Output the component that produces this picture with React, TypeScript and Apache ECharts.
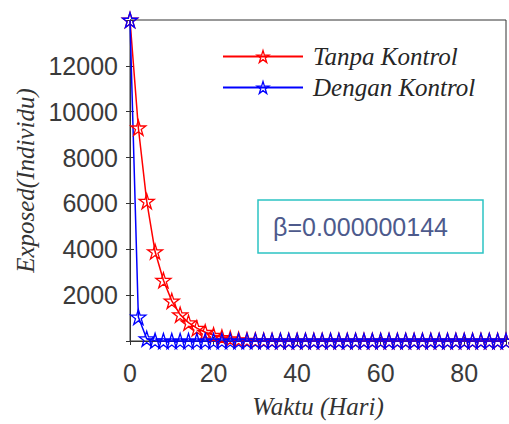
import React, { useEffect, useRef } from "react";
import * as echarts from "echarts";

const days = [0, 2, 4, 6, 8, 10, 12, 14, 16, 18, 20, 22, 24, 26, 28, 30, 32, 34, 36, 38, 40, 42, 44, 46, 48, 50, 52, 54, 56, 58, 60, 62, 64, 66, 68, 70, 72, 74, 76, 78, 80, 82, 84, 86, 88, 90];
const tanpaKontrol = [14000, 9300, 6100, 3900, 2650, 1750, 1150, 800, 560, 380, 250, 160, 100, 60, 35, 20, 12, 7, 4, 2, 1, 0, 0, 0, 0, 0, 0, 0, 0, 0, 0, 0, 0, 0, 0, 0, 0, 0, 0, 0, 0, 0, 0, 0, 0, 0];
const denganKontrol = [14000, 1050, 100, 10, 1, 0, 0, 0, 0, 0, 0, 0, 0, 0, 0, 0, 0, 0, 0, 0, 0, 0, 0, 0, 0, 0, 0, 0, 0, 0, 0, 0, 0, 0, 0, 0, 0, 0, 0, 0, 0, 0, 0, 0, 0, 0];
const seriesNames = ["Tanpa Kontrol", "Dengan Kontrol"];
const xTicks = [0, 20, 40, 60, 80];
const yTicks = [2000, 4000, 6000, 8000, 10000, 12000];
const betaLabel = "β=0.000000144";
const xTitle = "Waktu (Hari)";
const yTitle = "Exposed(Individu)";

const STAR = "path://M100,0L122.45,69.1L195.1,69.1L136.3,111.8L158.8,180.9L100,138.2L41.2,180.9L63.7,111.8L4.9,69.1L77.55,69.1Z";

export default function App() {
  const ref = useRef<HTMLDivElement>(null);
  useEffect(() => {
    if (!ref.current) return;
    const chart = echarts.init(ref.current, null, { renderer: "svg" });
    const axisColor = "#333333";
    const labelFont = { fontFamily: "Liberation Sans, Arial, sans-serif", fontSize: 25, color: "#3a3a3a" };
    const titleFont = { fontFamily: "Liberation Serif, Times New Roman, serif", fontStyle: "italic" as const, fontSize: 25, color: "#333333" };
    const clear = "rgba(255,255,255,0)";
    const mk = (name: string, data: number[], color: string) => ({
      name,
      type: "line",
      data: days.map((d, i) => [d, data[i]]),
      symbol: STAR,
      symbolSize: 15,
      showAllSymbol: true,
      clip: false,
      lineStyle: { color, width: 1.5 },
      itemStyle: { color: clear, borderColor: color, borderWidth: 1.3 },
      emphasis: { disabled: true },
    });
    const tickAxis = (extra: any) => ({
      type: "value",
      axisLine: { show: true, lineStyle: { color: axisColor, width: 1 } },
      axisTick: { show: true, inside: true, length: 4, lineStyle: { color: axisColor } },
      splitLine: { show: false },
      ...extra,
    });
    chart.setOption({
      animation: false,
      backgroundColor: "#ffffff",
      grid: { left: 130, right: 3, top: 20, bottom: 82, containLabel: false, show: true, borderColor: axisColor, borderWidth: 1, backgroundColor: "rgba(0,0,0,0)" },
      legend: {
        orient: "vertical",
        left: 222,
        top: 44,
        padding: 0,
        itemWidth: 80,
        itemHeight: 15,
        itemGap: 6,
        itemStyle: { color: clear, borderWidth: 1.3 },
        textStyle: { ...titleFont, color: "#262626", padding: [0, 0, 0, 5] },
        data: seriesNames,
      },
      xAxis: [
        tickAxis({
          min: 0,
          max: 90,
          interval: 20,
          name: xTitle,
          nameLocation: "middle",
          nameGap: 53,
          nameTextStyle: titleFont,
          axisLabel: { ...labelFont, margin: 19, formatter: (v: number) => (xTicks.includes(v) ? String(v) : "") },
        }),
        tickAxis({ position: "top", min: 0, max: 90, interval: 20, axisLabel: { show: false } }),
      ],
      yAxis: [
        tickAxis({
          min: 0,
          max: 14000,
          interval: 2000,
          name: yTitle,
          nameLocation: "middle",
          nameGap: 92,
          nameRotate: 90,
          nameTextStyle: titleFont,
          axisLabel: { ...labelFont, margin: 12, formatter: (v: number) => (yTicks.includes(v) ? String(v) : "") },
        }),
        tickAxis({ position: "right", min: 0, max: 14000, interval: 2000, axisLabel: { show: false } }),
      ],
      series: [mk(seriesNames[0], tanpaKontrol, "#ff0000"), mk(seriesNames[1], denganKontrol, "#0000ff")],
      graphic: [
        {
          type: "rect",
          shape: { x: 258, y: 200, width: 225, height: 53 },
          style: { fill: "#ffffff", stroke: "#2cc4c4", lineWidth: 1.5 },
          z: 100,
        },
        {
          type: "text",
          x: 273,
          y: 227,
          style: {
            text: betaLabel,
            fontFamily: "Liberation Sans, Arial, sans-serif",
            fontSize: 25,
            fill: "#4d5a8c",
            verticalAlign: "middle",
            align: "left",
          },
          z: 101,
        },
      ],
    });
    return () => chart.dispose();
  }, []);
  return <div ref={ref} style={{ position: "fixed", left: 0, top: 0, width: 509, height: 424 }} />;
}
